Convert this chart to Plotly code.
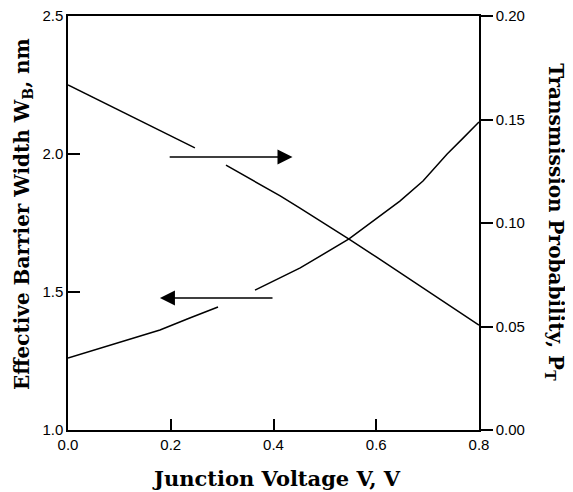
import plotly.graph_objects as go

# Effective barrier width (left axis), gap where the arrow crosses
v_w = [0.0, 0.05, 0.10, 0.15, 0.20, 0.247, None, 0.3075, 0.35, 0.413, 0.45, 0.50, 0.547, 0.60, 0.65, 0.70, 0.75, 0.80]
w_b = [2.25, 2.204, 2.158, 2.111, 2.065, 2.022, None, 1.960, 1.916, 1.848, 1.806, 1.748, 1.692, 1.627, 1.566, 1.504, 1.442, 1.380]

# Transmission probability (right axis), gap where the arrow crosses
v_p = [0.0, 0.062, 0.121, 0.179, 0.237, 0.292, None, 0.364, 0.452, 0.547, 0.607, 0.646, 0.691, 0.738, 0.769, 0.80]
p_t = [0.0348, 0.0396, 0.0440, 0.0483, 0.0541, 0.0594, None, 0.0676, 0.0783, 0.0923, 0.1034, 0.1106, 0.1203, 0.1333, 0.1410, 0.1488]

x_ticks = [0.0, 0.2, 0.4, 0.6, 0.8]
x_tick_labels = ["0.0", "0.2", "0.4", "0.6", "0.8"]
y_ticks = [1.0, 1.5, 2.0, 2.5]
y_tick_labels = ["1.0", "1.5", "2.0", "2.5"]
y2_ticks = [0.0, 0.05, 0.10, 0.15, 0.20]
y2_tick_labels = ["0.00", "0.05", "0.10", "0.15", "0.20"]

# arrows: (tail V, head V, level on left axis)
arrow_right = (0.195, 0.437, 1.989)
arrow_left = (0.401, 0.179, 1.478)

fig = go.Figure()
fig.add_trace(go.Scatter(x=v_w, y=w_b, mode="lines", line=dict(color="black", width=1.5),
                         connectgaps=False, showlegend=False, yaxis="y"))
fig.add_trace(go.Scatter(x=v_p, y=p_t, mode="lines", line=dict(color="black", width=1.5),
                         connectgaps=False, showlegend=False, yaxis="y2"))

for tail, head, lvl in [arrow_right, arrow_left]:
    fig.add_annotation(x=head, y=lvl, ax=tail, ay=lvl, xref="x", yref="y", axref="x", ayref="y",
                       showarrow=True, arrowhead=2, arrowsize=2.0, arrowwidth=1.5,
                       arrowcolor="black", text="")

tick_font = dict(family="Liberation Sans, Arial", size=15, color="black")
title_font = dict(family="DejaVu Serif", size=20, color="black")

fig.add_annotation(text="<b>Junction Voltage V, V</b>", xref="paper", yref="paper",
                   x=0.508, y=-0.118, xanchor="center", yanchor="middle", showarrow=False,
                   font=dict(family="DejaVu Serif", size=21, color="black"))
fig.add_annotation(text="<b>Effective Barrier Width W<sub>B</sub>, nm</b>", xref="paper", yref="paper",
                   x=-0.109, y=0.522, xanchor="center", yanchor="middle", textangle=-90,
                   showarrow=False, font=title_font)
fig.add_annotation(text="<b>Transmission Probability, P<sub>T</sub></b>", xref="paper", yref="paper",
                   x=1.185, y=0.502, xanchor="center", yanchor="middle", textangle=90,
                   showarrow=False, font=title_font)

fig.update_layout(
    width=573, height=492,
    margin=dict(l=60, r=102, t=8, b=70),
    paper_bgcolor="white", plot_bgcolor="white",
    xaxis=dict(range=[0, 0.8], tickvals=x_ticks, ticktext=x_tick_labels, ticks="inside", ticklen=11,
               tickwidth=1.5, tickcolor="black", showline=True, linecolor="black", linewidth=1.5,
               mirror=True, showgrid=False, zeroline=False, tickfont=tick_font, automargin=False,
               ticklabeloverflow="allow"),
    yaxis=dict(range=[1.0, 2.5], tickvals=y_ticks, ticktext=y_tick_labels, ticks="inside", ticklen=12,
               tickwidth=1.5, tickcolor="black", showline=True, linecolor="black", linewidth=1.5,
               showgrid=False, zeroline=False, tickfont=tick_font, automargin=False,
               ticklabeloverflow="allow"),
    yaxis2=dict(range=[0.0, 0.20], tickvals=y2_ticks, ticktext=y2_tick_labels, overlaying="y", side="right",
                ticks="outside", ticklen=12, tickwidth=1.5, tickcolor="black", showline=True,
                linecolor="black", linewidth=1.5, showgrid=False, zeroline=False, tickfont=tick_font,
                automargin=False, ticklabeloverflow="allow"),
)

fig.write_html("out.html")
